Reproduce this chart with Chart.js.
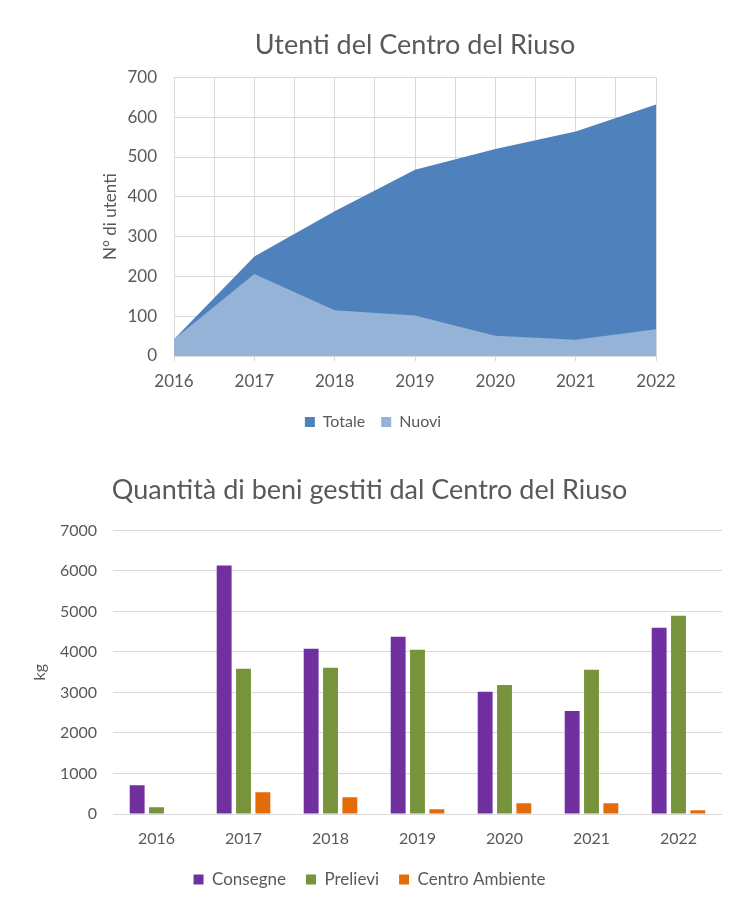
<!DOCTYPE html>
<html>
<head>
<meta charset="utf-8">
<script src="https://cdn.jsdelivr.net/npm/chart.js@4.4.0/dist/chart.umd.min.js"></script>
<style>
    html, body { margin: 0; padding: 0; background: #fff; }
    #top { position: absolute; left: 0; top: 0; width: 739px; height: 445px; }
    #bottom { position: absolute; left: 0; top: 445px; width: 739px; height: 464px; }
</style>
</head>
<body>
<div id="top"><canvas id="utenti"></canvas></div>
<div id="bottom"><canvas id="beni"></canvas></div>
<script>
// --- Data ---
const years = [2016, 2017, 2018, 2019, 2020, 2021, 2022];
const totale = [42, 250, 364, 468, 520, 564, 632];
const nuovi = [42, 206, 115, 102, 51, 41, 67];

const yearLabels = ['2016', '2017', '2018', '2019', '2020', '2021', '2022'];
const consegne = [710, 6135, 4080, 4375, 3015, 2545, 4600];
const prelievi = [165, 3585, 3610, 4055, 3185, 3560, 4895];
const centroAmbiente = [0, 535, 415, 115, 265, 265, 90];

const textColor = '#595959';
const gridColor = '#d9d9d9';

Chart.defaults.font.family = 'Lato, "Open Sans", sans-serif';
Chart.defaults.color = textColor;
Chart.defaults.animation = false;

// Title centred over the plot area, like the original
const centerTitleOnPlot = {
    id: 'centerTitleOnPlot',
    afterLayout(chart) {
        const t = chart.titleBlock;
        if (!t) return;
        t.left = chart.chartArea.left;
        t.right = chart.chartArea.right;
    }
};

// --- Utenti (area chart) ---
new Chart(document.getElementById('utenti'), {
    type: 'line',
    data: {
        datasets: [
            {
                label: 'Totale',
                data: years.map((y, i) => ({ x: y, y: totale[i] })),
                backgroundColor: '#4f81bd',
                borderColor: '#4f81bd',
                borderWidth: 0,
                pointRadius: 0,
                fill: 'origin',
                tension: 0,
                order: 2
            },
            {
                label: 'Nuovi',
                data: years.map((y, i) => ({ x: y, y: nuovi[i] })),
                backgroundColor: '#95b3d7',
                borderColor: '#95b3d7',
                borderWidth: 0,
                pointRadius: 0,
                fill: 'origin',
                tension: 0,
                order: 1
            }
        ]
    },
    plugins: [centerTitleOnPlot],
    options: {
        responsive: true,
        maintainAspectRatio: false,
        layout: { padding: { left: 90, right: 83, top: 0, bottom: 5 } },
        scales: {
            x: {
                type: 'linear',
                min: 2016,
                max: 2022,
                ticks: {
                    stepSize: 0.5,
                    autoSkip: false,
                    maxRotation: 0,
                    padding: 10,
                    font: { size: 17 },
                    callback: v => Number.isInteger(v) ? String(v) : ''
                },
                grid: {
                    color: gridColor,
                    tickLength: 5,
                    drawTicks: true,
                    // tick marks only under the years
                    tickColor: ctx => Number.isInteger(ctx.tick.value) ? gridColor : 'rgba(0,0,0,0)'
                },
                border: { color: gridColor },
                afterFit: scale => { scale.height = 42; }
            },
            y: {
                min: 0,
                max: 700,
                ticks: { stepSize: 100, padding: 17, font: { size: 17 } },
                grid: { color: gridColor, drawTicks: false },
                border: { display: false },
                title: {
                    display: true,
                    text: 'N° di utenti',
                    font: { size: 17 },
                    padding: { top: 10, bottom: 0 }
                },
                afterFit: scale => { scale.width = 84; }
            }
        },
        plugins: {
            title: {
                display: true,
                text: 'Utenti del Centro del Riuso',
                font: { size: 27, weight: 'normal' },
                padding: { top: 29, bottom: 16 }
            },
            legend: {
                position: 'bottom',
                labels: {
                    boxWidth: 10,
                    boxHeight: 10,
                    padding: 16,
                    font: { size: 16 },
                    sort: (a, b) => a.datasetIndex - b.datasetIndex
                }
            },
            tooltip: { enabled: false }
        }
    }
});

// --- Beni gestiti (bar chart) ---
new Chart(document.getElementById('beni'), {
    type: 'bar',
    data: {
        labels: yearLabels,
        datasets: [
            { label: 'Consegne', data: consegne, backgroundColor: '#7030a0' },
            { label: 'Prelievi', data: prelievi, backgroundColor: '#77933c' },
            { label: 'Centro Ambiente', data: centroAmbiente, backgroundColor: '#e36c09' }
        ]
    },
    options: {
        responsive: true,
        maintainAspectRatio: false,
        categoryPercentage: 0.667,
        barPercentage: 0.77,
        layout: { padding: { left: 17, right: 17, top: 0, bottom: 11 } },
        scales: {
            x: {
                ticks: { padding: 15, font: { size: 16 } },
                grid: { display: false, drawTicks: false },
                border: { display: false },
                afterFit: scale => { scale.height = 37; }
            },
            y: {
                min: 0,
                max: 7000,
                ticks: { stepSize: 1000, padding: 16, font: { size: 16 }, callback: v => String(v) },
                grid: { color: gridColor, drawTicks: false },
                border: { display: false },
                title: {
                    display: true,
                    text: 'kg',
                    font: { size: 16 },
                    padding: { top: 13, bottom: 0 }
                },
                afterFit: scale => { scale.width = 96; }
            }
        },
        plugins: {
            title: {
                display: true,
                text: 'Quantità di beni gestiti dal Centro del Riuso',
                font: { size: 27, weight: 'normal' },
                padding: { top: 29, bottom: 24 }
            },
            legend: {
                position: 'bottom',
                labels: { boxWidth: 10, boxHeight: 10, padding: 20, font: { size: 17 } }
            },
            tooltip: { enabled: false }
        }
    }
});
</script>
</body>
</html>
